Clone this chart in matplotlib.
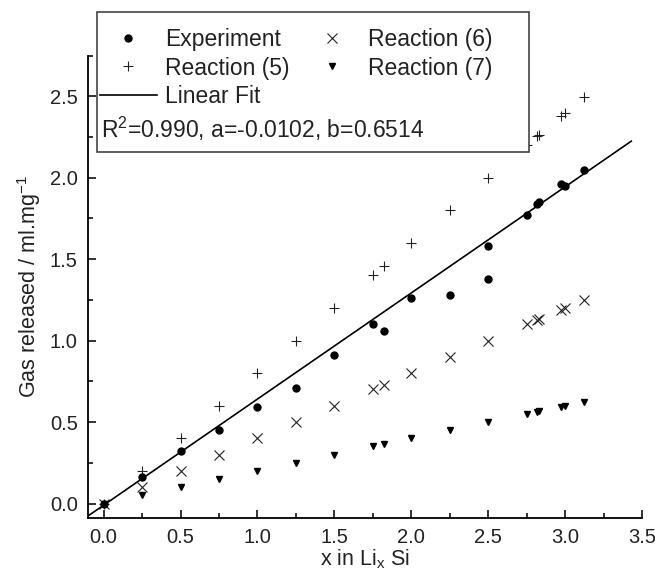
import matplotlib
matplotlib.use("Agg")
import numpy as np
import matplotlib.pyplot as plt
from matplotlib.lines import Line2D
from matplotlib.patches import Rectangle
from matplotlib.ticker import MultipleLocator

plt.rcParams['font.family'] = ['Liberation Sans', 'DejaVu Sans']

# measured gas release
x_exp = [0.0, 0.25, 0.5, 0.75, 1.0, 1.25, 1.5, 1.75, 1.82, 2.0, 2.25,
         2.5, 2.5, 2.75, 2.82, 2.83, 2.97, 3.0, 3.12]
y_exp = [0.0, 0.16, 0.32, 0.45, 0.59, 0.71, 0.91, 1.10, 1.06, 1.26, 1.28,
         1.58, 1.38, 1.77, 1.84, 1.85, 1.96, 1.95, 2.05]

# theoretical values for the three reactions
x_th = [0.0, 0.25, 0.5, 0.75, 1.0, 1.25, 1.5, 1.75, 1.82, 2.0, 2.25,
        2.5, 2.75, 2.82, 2.83, 2.97, 3.0, 3.12]
y_r5 = [0.0, 0.20, 0.40, 0.60, 0.80, 1.00, 1.20, 1.40, 1.456, 1.60, 1.80,
        2.00, 2.20, 2.256, 2.264, 2.376, 2.40, 2.496]
y_r6 = [0.0, 0.10, 0.20, 0.30, 0.40, 0.50, 0.60, 0.70, 0.728, 0.80, 0.90,
        1.00, 1.10, 1.128, 1.132, 1.188, 1.20, 1.248]
y_r7 = [0.0, 0.05, 0.10, 0.15, 0.20, 0.25, 0.30, 0.35, 0.364, 0.40, 0.45,
        0.50, 0.55, 0.564, 0.566, 0.594, 0.60, 0.624]

# linear fit y = a + b*x
r2, a, b = 0.990, -0.0102, 0.6514
fit_range = [-0.1, 3.43]

fig = plt.figure(figsize=(6.55, 5.77), dpi=100)
ax = fig.add_axes([0.1336, 0.1014, 0.8466, 0.8024])

xf = np.array(fit_range)
ax.plot(xf, a + b * xf, color='black', lw=1.2, zorder=2)
ax.plot(x_th, y_r5, ls='none', marker='+', ms=7, mew=0.8, color='#222222', zorder=3)
ax.plot(x_th, y_r6, ls='none', marker='x', ms=7.5, mew=0.8, color='#222222', zorder=3)
ax.plot(x_th, y_r7, ls='none', marker='v', ms=5, color='black', zorder=3)
ax.plot(x_exp, y_exp, ls='none', marker='o', ms=5, color='black', zorder=4)

ax.set_xlim(-0.105, 3.5)
ax.set_ylim(-0.092, 2.75)
ax.xaxis.set_minor_locator(MultipleLocator(0.25))
ax.yaxis.set_minor_locator(MultipleLocator(0.25))
ax.set_xticks(np.arange(0, 3.51, 0.5))
ax.set_yticks(np.arange(0, 2.51, 0.5))
ax.xaxis.set_major_formatter(plt.FormatStrFormatter('%.1f'))
ax.yaxis.set_major_formatter(plt.FormatStrFormatter('%.1f'))

for s in ['top', 'right']:
    ax.spines[s].set_visible(False)
for s in ['left', 'bottom']:
    ax.spines[s].set_linewidth(1.3)
ax.tick_params(which='both', direction='in', width=1.3, labelsize=14.5,
               colors='#222222')
ax.tick_params(which='major', length=6, pad=7)
ax.tick_params(which='minor', length=3.5)

ax.set_xlabel(r'x in Li$_{\mathregular{x}}$ Si', fontsize=15.5, color='#222222', labelpad=0)
ax.set_ylabel(r'Gas released / ml.mg$^{\mathregular{-1}}$', fontsize=15.5,
              color='#222222', labelpad=5)

# legend box drawn over the plot
box = Rectangle((97 / 655, 1 - 152 / 577), 432 / 655, 140 / 577,
                transform=fig.transFigure, facecolor='white',
                edgecolor='#444444', lw=1.2, zorder=1)
fig.patches.append(box)

handles = [
    Line2D([], [], ls='none', marker='o', ms=5, color='black'),
    Line2D([], [], ls='none', marker='+', ms=7, mew=0.8, color='#222222'),
    Line2D([], [], color='black', lw=1.2),
    Line2D([], [], ls='none', marker='x', ms=7.5, mew=0.8, color='#222222'),
    Line2D([], [], ls='none', marker='v', ms=5, color='black'),
]
labels = ['Experiment', 'Reaction (5)', 'Linear Fit', 'Reaction (6)', 'Reaction (7)']
fig.legend(handles, labels, ncol=2, frameon=False, loc='upper left',
           bbox_to_anchor=(100 / 655, 1 - 28 / 577), borderaxespad=0,
           borderpad=0, fontsize=16.5, handlelength=2.48, handletextpad=0.35,
           columnspacing=0.6, labelspacing=0.24, labelcolor='#222222')

fig.text(101 / 655, 1 - 128.5 / 577,
         r'R$^{\mathregular{2}}$=%.3f, a=%.4f, b=%.4f' % (r2, a, b),
         fontsize=16.5, va='center', ha='left', color='#222222', zorder=6)

fig.savefig('out.png', dpi=100)
